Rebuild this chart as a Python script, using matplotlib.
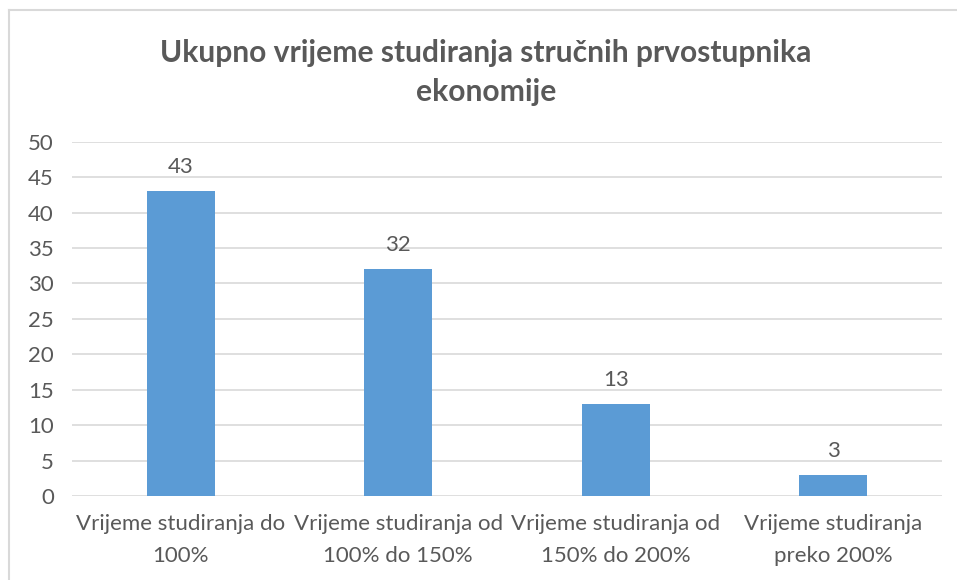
import matplotlib
matplotlib.use('Agg')
from matplotlib import pyplot as plt
from matplotlib.lines import Line2D
import numpy as np

plt.rcParams['font.family'] = ['Lato', 'DejaVu Sans']

categories = ['Vrijeme studiranja do\n100%',
              'Vrijeme studiranja od\n100% do 150%',
              'Vrijeme studiranja od\n150% do 200%',
              'Vrijeme studiranja\npreko 200%']
values = [43, 32, 13, 3]
yticks = [0, 5, 10, 15, 20, 25, 30, 35, 40, 45, 50]
title = 'Ukupno vrijeme studiranja stručnih prvostupnika\nekonomije'

text_col = '#595959'
grid_col = '#d9d9d9'
bar_col = '#5b9bd5'

fig = plt.figure(figsize=(9.57, 5.8), dpi=100)
ax = fig.add_axes([0.0752, 0.1448, 0.9091, 0.6109])

x = np.arange(len(values))
bars = ax.bar(x, values, width=0.313, color=bar_col, zorder=3)
ax.bar_label(bars, labels=[str(v) for v in values], padding=10,
             fontsize=16, color=text_col)

ax.set_xlim(-0.5, len(values) - 0.5)
ax.set_ylim(0, 50)
ax.set_yticks(yticks)
ax.set_xticks(x)
ax.set_xticklabels(categories, linespacing=1.75)
ax.tick_params(axis='both', length=0, labelsize=16, labelcolor=text_col)
ax.tick_params(axis='y', pad=13)
ax.tick_params(axis='x', pad=13)

ax.yaxis.grid(True, color=grid_col, linewidth=1.2, zorder=0)
for s in ax.spines.values():
    s.set_visible(False)

fig.text(0.508, 0.875, title, ha='center', va='center', fontsize=21.6,
         fontweight='bold', color=text_col, linespacing=1.5)

# chart border (top and left visible)
fig.add_artist(Line2D([9/957, 9/957], [0, 1 - 10/580], color=grid_col, lw=1.5))
fig.add_artist(Line2D([9/957, 1], [1 - 10/580, 1 - 10/580], color=grid_col, lw=1.5))

fig.savefig('out.png', dpi=100)
